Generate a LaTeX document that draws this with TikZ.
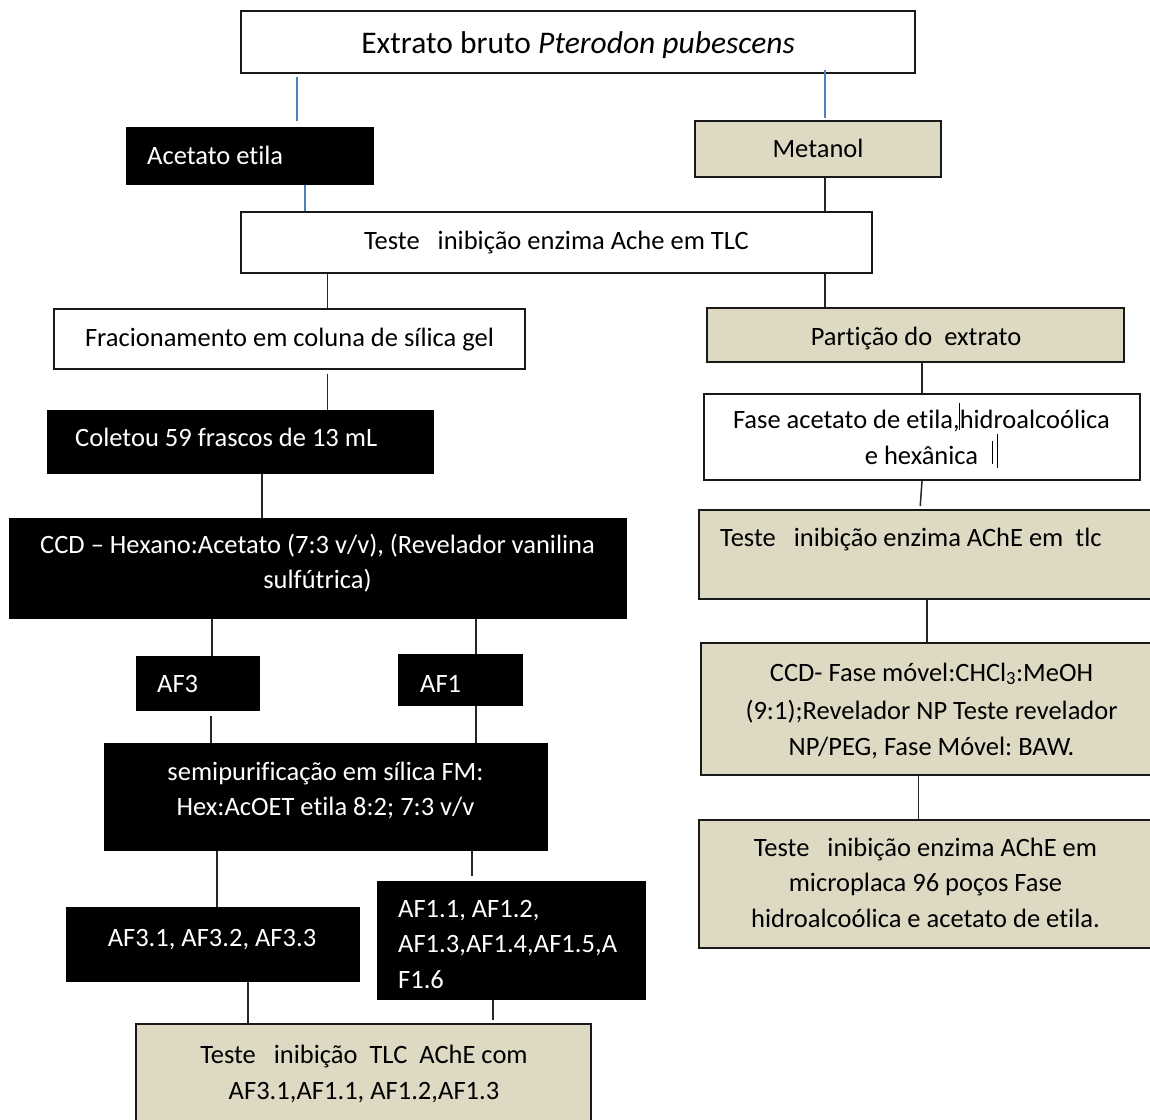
\documentclass[tikz,border=0pt]{standalone}
\usepackage{fontspec}
\setmainfont{Carlito}[Ligatures=NoCommon]
\frenchspacing
\definecolor{tanbox}{HTML}{DDD9C3}
\definecolor{wordblue}{HTML}{4F81BD}
\begin{document}
\frenchspacing
\begin{tikzpicture}[x=1pt,y=-1pt,
  wbox/.style={draw=black!90, line width=2pt, fill=white, inner sep=0pt},
  tbox/.style={draw=black!90, line width=2pt, fill=tanbox, inner sep=0pt},
  kbox/.style={draw=black, fill=black, line width=1pt, inner sep=0pt},
  txt/.style={inner sep=0pt, anchor=base, font=\fontsize{26.5}{35.5}\selectfont},
  wtxt/.style={txt, text=white},
  ln/.style={draw=black!85, line width=1.5pt},
  bl/.style={draw=wordblue, line width=1.5pt},
  cursor/.style={draw=black, line width=1pt}]
\useasboundingbox (0,0) rectangle (1150,1119);
\clip (0,0) rectangle (1150,1119);
\fill[white] (0,0) rectangle (1150,1119);

% boxes
\node[wbox, minimum width=674pt, minimum height=62pt] (top) at (578,42) {};
\node[kbox, minimum width=247pt, minimum height=57pt] (acet) at (249.5,155.5) {};
\node[tbox, minimum width=246pt, minimum height=56pt] (met) at (818,149) {};
\node[wbox, minimum width=631pt, minimum height=61pt] (t1) at (556.5,242.5) {};
\node[wbox, minimum width=471pt, minimum height=60pt] (frac) at (289.5,339) {};
\node[tbox, minimum width=417pt, minimum height=54pt] (part) at (915.5,335) {};
\node[kbox, minimum width=386pt, minimum height=63pt] (col) at (240,441.5) {};
\node[wbox, minimum width=436pt, minimum height=86pt] (fase) at (922,437) {};
\node[kbox, minimum width=617pt, minimum height=100pt] (ccd) at (317.5,568) {};
\node[tbox, minimum width=461pt, minimum height=89pt] (tlc) at (929.5,554.5) {};
\node[kbox, minimum width=123pt, minimum height=54pt] (af3) at (197.5,683) {};
\node[kbox, minimum width=124pt, minimum height=51pt] (af1) at (460,679.5) {};
\node[tbox, minimum width=461pt, minimum height=132pt] (ccd2) at (931.5,709) {};
\node[kbox, minimum width=443pt, minimum height=107pt] (semi) at (325.5,796.5) {};
\node[tbox, minimum width=453pt, minimum height=128pt] (mic) at (925.5,884) {};
\node[kbox, minimum width=293pt, minimum height=74pt] (af31) at (212.5,944) {};
\node[kbox, minimum width=268pt, minimum height=118pt] (af11) at (511,940) {};
\node[tbox, minimum width=455pt, minimum height=102pt] (fin) at (363.5,1075) {};

% texts
\node[txt, font=\fontsize{31.5}{38}\selectfont] (top-t) at (578,53) {Extrato bruto \textit{Pterodon pubescens}};
\node[wtxt, anchor=base west] (acet-t) at (147,164) {Acetato etila};
\node[txt] (met-t) at (818,157) {Metanol};
\node[txt] (t1-t) at (556.5,249) {Teste~~~inibição enzima Ache em TLC};
\node[txt] (frac-t) at (289.5,346) {Fracionamento em coluna de sílica gel};
\node[txt] (part-t) at (916,345) {Partição do~~extrato};
\node[wtxt, anchor=base west] (col-t) at (75,446.5) {Coletou 59 frascos de 13 mL};
\node[txt, text width=430pt, align=flush center] (fase-t) at (921.5,428.6) {Fase acetato de etila,hidroalcoólica\\e hexânica};
\node[wtxt, text width=600pt, align=flush center] (ccd-t) at (317.5,553) {CCD – Hexano:Acetato (7:3 v/v), (Revelador vanilina\\sulfútrica)};
\node[txt, anchor=base west] (tlc-t) at (720,546) {Teste~~~inibição enzima AChE em~~tlc};
\node[wtxt, anchor=base west] (af3-t) at (157,692) {AF3};
\node[wtxt, anchor=base west] (af1-t) at (420,692) {AF1};
\node[txt, text width=450pt, align=flush center] (ccd2-t) at (931.5,681) {CCD- Fase móvel:CHCl\textsubscript{3}:MeOH\\[3pt](9:1);Revelador NP Teste revelador\\NP/PEG, Fase Móvel: BAW.};
\node[wtxt, text width=440pt, align=flush center] (semi-t) at (325.5,780) {semipurificação em sílica FM:\\Hex:AcOET etila 8:2; 7:3 v/v};
\node[txt, text width=450pt, align=flush center] (mic-t) at (925.5,856) {Teste~~~inibição enzima AChE em\\microplaca 96 poços Fase\\hidroalcoólica e acetato de etila.};
\node[wtxt] (af31-t) at (212,946) {AF3.1, AF3.2, AF3.3};
\node[wtxt, text width=260pt, align=flush left, anchor=base west] (af11-t) at (398,917) {AF1.1, AF1.2,\\AF1.3,AF1.4,AF1.5,A\\F1.6};
\node[txt, text width=450pt, align=flush center] (fin-t) at (364,1063.6) {Teste~~~inibição~~TLC~~AChE com\\AF3.1,AF1.1, AF1.2,AF1.3};

% text cursor marks
\draw[cursor] (959,402.5) -- (959,430);
\draw[cursor] (992,441) -- (992,464);
\draw[cursor] (997,434) -- (997,468);

% connectors
\draw[bl, shorten <=3pt, shorten >=6pt] (297,0 |- top.south) -- (297,0 |- acet.north);
\draw[bl] (305,0 |- acet.south) -- (305,0 |- t1.north);
\draw[bl, shorten <=-4pt, shorten >=2pt] (825,0 |- top.south) -- (825,0 |- met.north);
\draw[ln] (825,0 |- met.south) -- (825,0 |- t1.north);
\draw[ln] (327.5,0 |- t1.south) -- (327.5,0 |- frac.north);
\draw[ln] (825,0 |- t1.south) -- (825,0 |- part.north);
\draw[ln, shorten <=4pt] (327.5,0 |- frac.south) -- (327.5,0 |- col.north);
\draw[ln] (922,0 |- part.south) -- (922,0 |- fase.north);
\draw[ln] (262,0 |- col.south) -- (262,0 |- ccd.north);
\draw[ln, shorten >=3pt] (922,0 |- fase.south) -- (920,0 |- tlc.north);
\draw[ln] (212,0 |- ccd.south) -- (212,0 |- af3.north);
\draw[ln] (476,0 |- ccd.south) -- (476,0 |- af1.north);
\draw[ln] (927,0 |- tlc.south) -- (927,0 |- ccd2.north);
\draw[ln, shorten <=5pt] (211,0 |- af3.south) -- (211,0 |- semi.north);
\draw[ln] (476,0 |- af1.south) -- (476,0 |- semi.north);
\draw[ln] (918.5,0 |- ccd2.south) -- (918.5,0 |- mic.north);
\draw[ln] (217,0 |- semi.south) -- (217,0 |- af31.north);
\draw[ln, shorten >=5pt] (472,0 |- semi.south) -- (472,0 |- af11.north);
\draw[ln] (248,0 |- af31.south) -- (248,0 |- fin.north);
\draw[ln, shorten >=3pt] (493,0 |- af11.south) -- (493,0 |- fin.north);
\end{tikzpicture}
\end{document}
